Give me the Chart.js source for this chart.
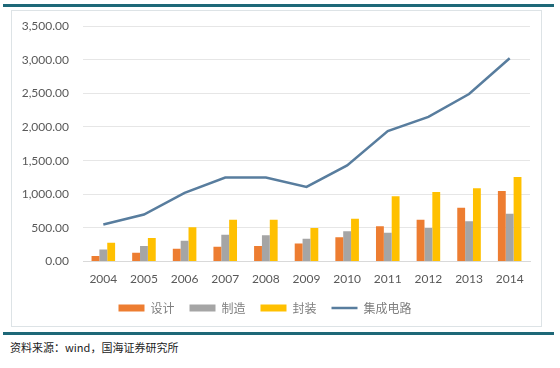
<!DOCTYPE html>
<html>
<head>
<meta charset="utf-8">
<script src="https://cdn.jsdelivr.net/npm/chart.js@4"></script>
<style>
  html, body { margin: 0; padding: 0; background: #ffffff; width: 560px; height: 368px; overflow: hidden; }
  #topline { position: absolute; left: 3px; top: 4px; width: 551px; height: 3px; background: #1e6878; }
  #frame { position: absolute; left: 11px; top: 10px; width: 531px; height: 317px; border: 1px solid #dde3e6; box-sizing: border-box; }
  #botline { position: absolute; left: 3px; top: 332px; width: 551px; height: 3px; background: #1e6878; }
  #source { position: absolute; left: 10px; top: 339px; font-family: "Noto Sans CJK SC", sans-serif; font-size: 11px; color: #222; }
  #wrap { position: absolute; left: 0; top: 0; width: 560px; height: 330px; }
</style>
</head>
<body>
<div id="topline"></div>
<div id="frame"></div>
<div id="botline"></div>
<div id="source">资料来源：wind，国海证券研究所</div>
<div id="wrap"><canvas id="c" width="560" height="330"></canvas></div>
<script>
const years = ['2004','2005','2006','2007','2008','2009','2010','2011','2012','2013','2014'];
const design = [85, 130, 190, 220, 230, 270, 360, 525, 620, 800, 1050];
const manufacture = [180, 230, 310, 400, 390, 340, 450, 430, 500, 600, 710];
const packaging = [280, 350, 510, 620, 620, 500, 635, 970, 1035, 1090, 1255];
const icTotal = [550, 700, 1020, 1250, 1250, 1110, 1430, 1940, 2150, 2490, 3020];
const seriesNames = ['设计', '制造', '封装', '集成电路'];

const tickFont = { family: 'Lato, Carlito, "Noto Sans", sans-serif', size: 12 };

new Chart(document.getElementById('c'), {
  data: {
    labels: years,
    datasets: [
      { type: 'line', label: seriesNames[3], data: icTotal, borderColor: '#587d9e', backgroundColor: '#587d9e', borderWidth: 2.5, pointRadius: 0, tension: 0, order: 0 },
      { type: 'bar', label: seriesNames[0], data: design, backgroundColor: '#ed7d31', categoryPercentage: 0.58, barPercentage: 1.0, order: 1 },
      { type: 'bar', label: seriesNames[1], data: manufacture, backgroundColor: '#a5a5a5', categoryPercentage: 0.58, barPercentage: 1.0, order: 1 },
      { type: 'bar', label: seriesNames[2], data: packaging, backgroundColor: '#ffc000', categoryPercentage: 0.58, barPercentage: 1.0, order: 1 }
    ]
  },
  options: {
    responsive: false,
    animation: false,
    layout: { padding: { left: 0, right: 30, top: 26, bottom: 6 } },
    plugins: {
      tooltip: { enabled: false },
      legend: {
        position: 'bottom',
        labels: {
          usePointStyle: true,
          pointStyleWidth: 26,
          boxHeight: 7,
          padding: 15,
          color: '#7f7f7f',
          font: { family: '"Noto Sans CJK SC", sans-serif', size: 12 },
          generateLabels: function(chart) {
            const items = Chart.defaults.plugins.legend.labels.generateLabels(chart);
            items.forEach(it => {
              const ds = chart.data.datasets[it.datasetIndex];
              if (ds.type === 'line') { it.pointStyle = 'line'; it.lineWidth = 2.5; it.strokeStyle = ds.borderColor; }
              else { it.pointStyle = 'rect'; it.lineWidth = 0; }
            });
            const order = [1, 2, 3, 0];
            return order.map(i => items.find(it => it.datasetIndex === i));
          }
        }
      }
    },
    scales: {
      x: {
        afterFit: function(s) { s.height = s.height - 9; },
        grid: { display: false, drawTicks: false },
        border: { display: true, color: '#d9d9d9' },
        ticks: { color: '#595959', font: tickFont, padding: 10 }
      },
      y: {
        min: 0, max: 3500,
        afterFit: function(s) { s.width = 83; },
        grid: { color: '#e6e6e6', drawTicks: false },
        border: { display: false },
        ticks: {
          stepSize: 500, color: '#595959', font: tickFont, padding: 14,
          callback: v => v.toLocaleString('en-US', { minimumFractionDigits: 2, maximumFractionDigits: 2 })
        }
      }
    }
  }
});
</script>
</body>
</html>
